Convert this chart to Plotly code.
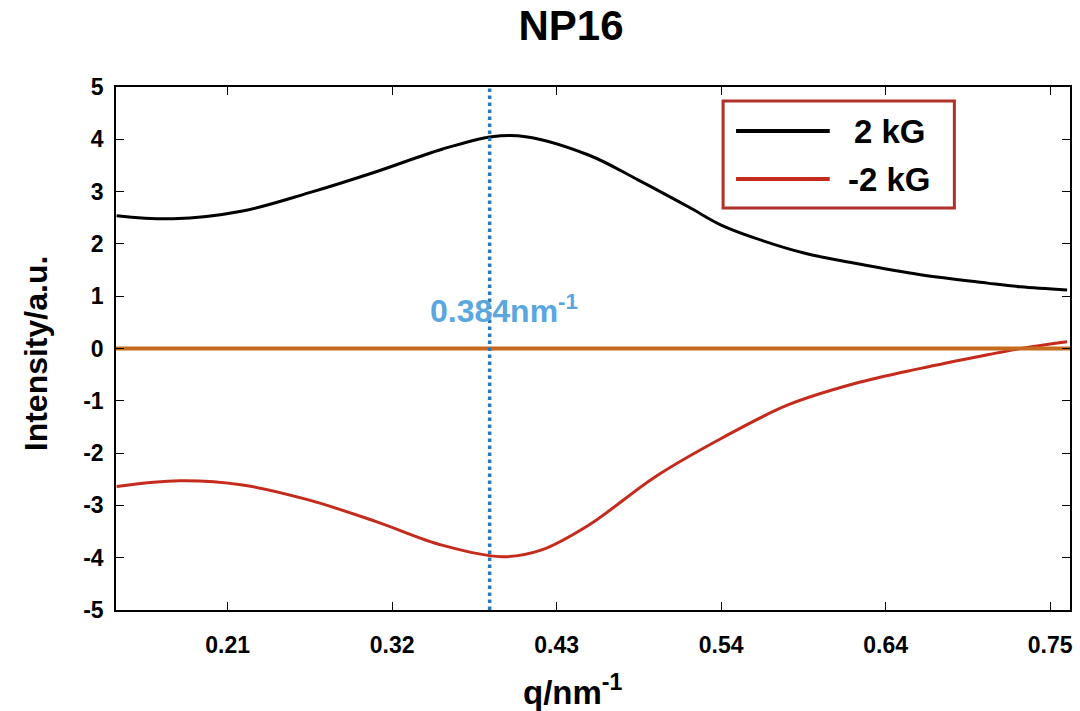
import plotly.graph_objects as go

# Scattering profiles, NP16 sample
q_pos = [0.1391, 0.1760, 0.2218, 0.2657, 0.3095, 0.3527, 0.3854, 0.4077, 0.4489,
         0.4817, 0.5144, 0.5360, 0.5583, 0.5910, 0.6237, 0.6669, 0.7108, 0.7324, 0.7631]
i_pos = [2.54, 2.48, 2.63, 2.98, 3.38, 3.81, 4.05, 4.05, 3.70,
         3.22, 2.71, 2.36, 2.11, 1.82, 1.63, 1.41, 1.25, 1.18, 1.12]

q_neg = [0.1391, 0.1805, 0.2218, 0.2657, 0.3095, 0.3527, 0.3920, 0.4182, 0.4489,
         0.4928, 0.5360, 0.5798, 0.6237, 0.6669, 0.7108, 0.7324, 0.7631]
i_neg = [-2.64, -2.53, -2.61, -2.90, -3.31, -3.76, -3.98, -3.85, -3.38,
         -2.45, -1.72, -1.08, -0.67, -0.38, -0.12, 0.00, 0.13]

series_names = ["2 kG", "-2 kG"]
series_colors = ["#000000", "#c42b1c"]

peak_q = 0.384
peak_label = "0.384nm<sup>-1</sup>"

x_tickvals = [0.212, 0.320, 0.428, 0.536, 0.644, 0.752]
x_ticktext = ["0.21", "0.32", "0.43", "0.54", "0.64", "0.75"]
y_tickvals = [-5, -4, -3, -2, -1, 0, 1, 2, 3, 4, 5]
y_ticktext = ["-5", "-4", "-3", "-2", "-1", "0", "1", "2", "3", "4", "5"]

x_range = [0.1387, 0.765]
y_range = [-5, 5]

FONT = "Liberation Sans, Arial, Helvetica, sans-serif"

fig = go.Figure()

for qs, vals, name, color in zip([q_pos, q_neg], [i_pos, i_neg], series_names, series_colors):
    fig.add_trace(go.Scatter(
        x=qs, y=vals, name=name, mode="lines",
        line=dict(color=color, width=3, shape="spline", smoothing=1.0),
        showlegend=False,
    ))

# zero reference line
fig.add_trace(go.Scatter(
    x=x_range, y=[0, 0], mode="lines",
    line=dict(color="#c66a1e", width=4), showlegend=False, hoverinfo="skip",
))

# peak position marker
fig.add_trace(go.Scatter(
    x=[peak_q, peak_q], y=y_range, mode="lines",
    line=dict(color="#2a78b8", width=3.5, dash="dot"), showlegend=False, hoverinfo="skip",
))

W, H = 1080, 711
L, R, T, B = 116, 7, 87, 101
pw, ph = W - L - R, H - T - B


def px_x(p):
    return (p - L) / pw


def px_y(p):
    return (H - B - p) / ph


shapes = []
annotations = []

# legend box drawn by hand to get the long line samples
shapes.append(dict(type="rect", xref="paper", yref="paper",
                   x0=px_x(725), x1=px_x(957), y0=px_y(208), y1=px_y(101),
                   line=dict(color="#b0302a", width=3), fillcolor="white", layer="above"))
for k, (name, color) in enumerate(zip(series_names, series_colors)):
    yy = px_y(131 + 48 * k)
    shapes.append(dict(type="line", xref="paper", yref="paper",
                       x0=px_x(738), x1=px_x(832), y0=yy, y1=yy,
                       line=dict(color=color, width=4), layer="above"))
    annotations.append(dict(xref="paper", yref="paper", x=px_x(892), y=yy,
                            text=name, showarrow=False, xanchor="center", yanchor="middle",
                            font=dict(family=FONT, size=33, color="black", weight="bold")))

annotations.append(dict(x=peak_q, y=0.75, xref="x", yref="y", xshift=14,
                        text=peak_label, showarrow=False, xanchor="center", yanchor="middle",
                        font=dict(family=FONT, size=32, color="#5aa7e0", weight="bold")))

annotations.append(dict(xref="paper", yref="paper", x=px_x(574), y=px_y(690),
                        text="q/nm<sup>-1</sup>", showarrow=False,
                        xanchor="center", yanchor="middle",
                        font=dict(family=FONT, size=33, color="black", weight="bold")))
annotations.append(dict(xref="paper", yref="paper", x=px_x(36), y=px_y(353),
                        text="Intensity/a.u.", showarrow=False, textangle=-90,
                        xanchor="center", yanchor="middle",
                        font=dict(family=FONT, size=32, color="black", weight="bold")))

axis_common = dict(
    showgrid=False, zeroline=False, showline=True, linecolor="black", linewidth=1.5,
    mirror="ticks", ticks="inside", ticklen=8, tickcolor="black", tickwidth=1,
    tickfont=dict(family=FONT, size=23, color="black", weight="bold"),
)

fig.update_layout(
    width=W, height=H,
    margin=dict(l=L, r=R, t=T, b=B),
    paper_bgcolor="white", plot_bgcolor="white",
    title=dict(text="NP16", x=571 / W, xref="container", xanchor="center",
               y=1 - 25 / H, yref="container", yanchor="middle",
               font=dict(family=FONT, size=42, color="black", weight="bold")),
    xaxis=dict(range=x_range, tickvals=x_tickvals, ticktext=x_ticktext,
               ticklabelstandoff=14, **axis_common),
    yaxis=dict(range=y_range, tickvals=y_tickvals, ticktext=y_ticktext,
               ticklabelstandoff=6, **axis_common),
    shapes=shapes,
    annotations=annotations,
)

fig.write_html("out.html")
